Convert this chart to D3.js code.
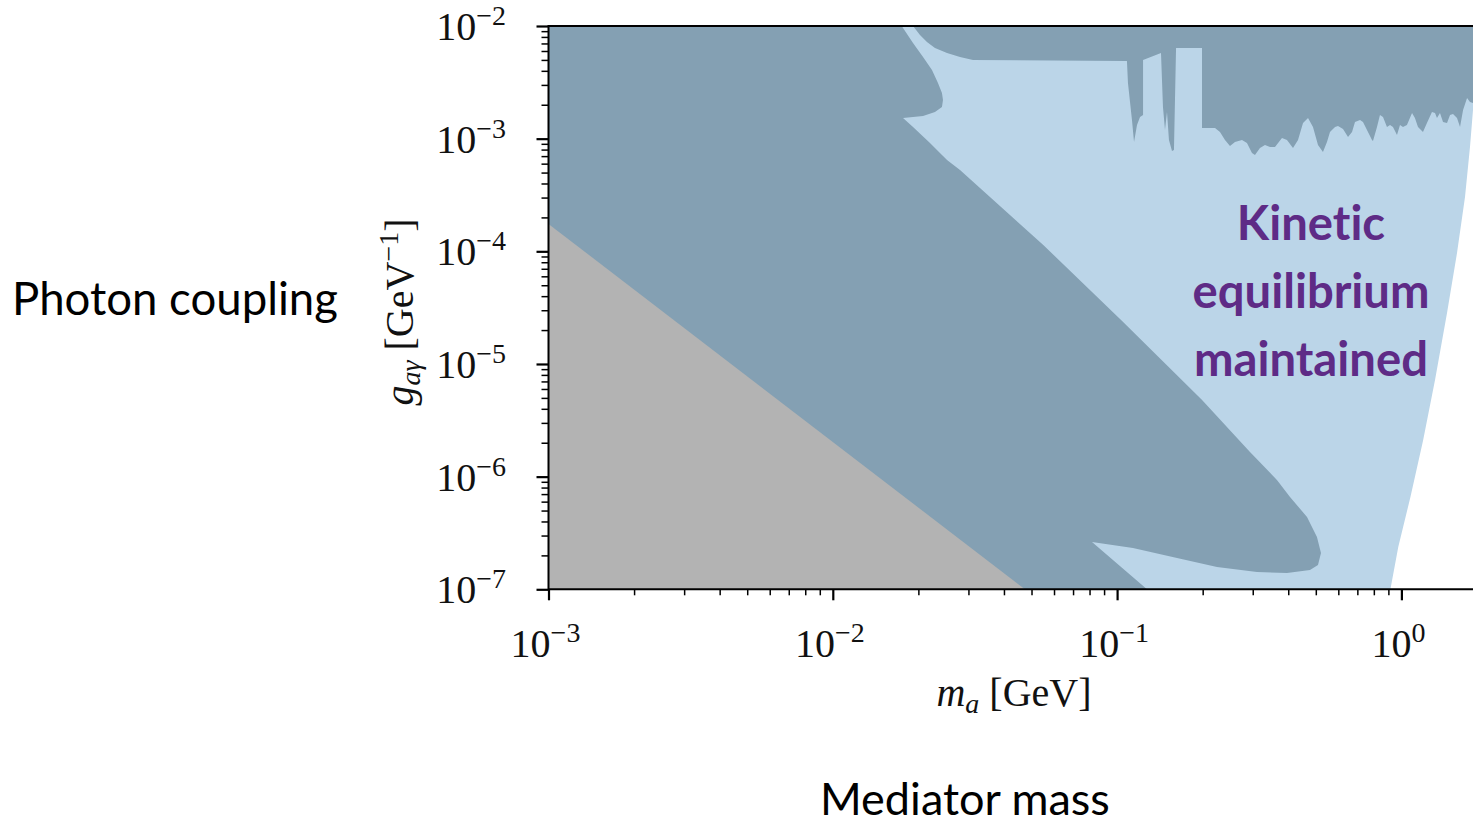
<!DOCTYPE html>
<html>
<head>
<meta charset="utf-8">
<script src="https://cdn.jsdelivr.net/npm/d3@7"></script>
<style>
  body { margin: 0; background: #ffffff; }
  svg { display: block; }
  text { font-variant-ligatures: none; font-feature-settings: "liga" 0; }
</style>
</head>
<body>
<svg id="chart" width="1473" height="825"></svg>
<script>
// ---- axis extents and ticks ----
const massDomain = [1e-3, 1.786];          // m_a [GeV]
const couplingDomain = [1e-7, 1e-2];       // g_aγ [GeV^-1]
const xMajorTicks = [1e-3, 1e-2, 1e-1, 1e0];
const xTickExponents = ["−3", "−2", "−1", "0"];
const yMajorTicks = [1e-2, 1e-3, 1e-4, 1e-5, 1e-6, 1e-7];
const yTickExponents = ["−2", "−3", "−4", "−5", "−6", "−7"];

// ---- region boundaries, [mass GeV, coupling GeV^-1] ----
// right edge of the region where kinetic equilibrium holds (bottom to top)
const equilibriumEdge = [
  [0.915, 1e-7], [0.975, 2.373e-7], [1.076, 6.597e-7], [1.193, 2.115e-6],
  [1.313, 7.208e-6], [1.447, 2.835e-5], [1.569, 9.663e-5], [1.674, 3.035e-4],
  [1.743, 8.433e-4], [1.786, 1.796e-3], [2.2, 1e-2]
];

// excluded diagonal band (outline, clockwise from top-left)
const bandOutline = [
  [1e-3, 1e-2], [0.01747, 1e-2], [0.01915, 7.065e-3], [0.02077, 5.306e-3],
  [0.02233, 4.068e-3], [0.02344, 3.119e-3], [0.02421, 2.543e-3], [0.02441, 2.204e-3],
  [0.02421, 1.910e-3], [0.02288, 1.724e-3], [0.02077, 1.589e-3], [0.01915, 1.557e-3],
  [0.01766, 1.526e-3], [0.01915, 1.269e-3], [0.02197, 9.151e-4], [0.02522, 6.464e-4],
  [0.02802, 5.27e-4], [0.05500, 1.138e-4], [0.1050, 2.359e-5], [0.1990, 4.79e-6],
  [0.2934, 1.655e-6], [0.3650, 9.337e-7], [0.4057, 6.597e-7], [0.4656, 4.383e-7],
  [0.5047, 2.912e-7], [0.5214, 2.1e-7], [0.5089, 1.643e-7], [0.4770, 1.483e-7],
  [0.3959, 1.395e-7], [0.3105, 1.424e-7], [0.2246, 1.577e-7], [0.1625, 1.895e-7],
  [0.1137, 2.326e-7], [0.08161, 2.629e-7], [0.1274, 1e-7], [1e-3, 1e-7]
];

// lower edge of the excluded strip at large couplings (left to right)
const upperLimitEdge = [
  [0.01915, 1e-2], [0.02026, 8.32e-3], [0.02144, 7.211e-3], [0.02288, 6.378e-3],
  [0.02522, 5.758e-3], [0.02802, 5.306e-3], [0.03112, 4.99e-3], [0.1083, 4.89e-3],
  [0.1092, 3.119e-3], [0.1128, 1.464e-3], [0.1147, 9.34e-4], [0.1175, 1.322e-3],
  [0.1204, 1.557e-3], [0.1234, 1.622e-3], [0.1234, 4.99e-3], [0.1427, 5.758e-3],
  [0.1450, 1.91e-3], [0.1474, 1.194e-3], [0.1498, 1.724e-3], [0.1522, 9.73e-4],
  [0.1560, 7.772e-4], [0.1585, 7.932e-4], [0.1612, 6.378e-3], [0.1989, 6.378e-3],
  [0.1989, 1.243e-3], [0.2088, 1.243e-3], [0.2210, 1.243e-3], [0.2301, 1.146e-3],
  [0.2396, 9.73e-4], [0.2495, 8.607e-4], [0.2598, 9.34e-4], [0.2750, 9.73e-4],
  [0.2863, 9.151e-4], [0.2982, 7.461e-4], [0.3055, 7.161e-4], [0.3181, 8.263e-4],
  [0.3313, 8.785e-4], [0.3450, 8.433e-4], [0.3592, 8.433e-4], [0.3802, 1.014e-3],
  [0.3959, 9.73e-4], [0.4157, 8.263e-4], [0.4329, 9.73e-4], [0.4508, 1.377e-3],
  [0.4694, 1.526e-3], [0.4887, 1.269e-3], [0.5089, 8.785e-4], [0.5299, 7.615e-4],
  [0.5473, 9.34e-4], [0.5609, 1.146e-3], [0.5841, 1.269e-3], [0.5984, 1.295e-3],
  [0.6232, 1.218e-3], [0.6490, 1.034e-3], [0.6704, 1.146e-3], [0.6868, 1.406e-3],
  [0.7152, 1.464e-3], [0.7327, 1.406e-3], [0.7568, 1.194e-3], [0.7881, 9.73e-4],
  [0.7945, 9.53e-4], [0.8207, 1.269e-3], [0.8407, 1.622e-3], [0.8616, 1.557e-3],
  [0.8898, 1.269e-3], [0.9119, 1.322e-3], [0.9341, 1.269e-3], [0.965, 1.078e-3],
  [0.9888, 1.322e-3], [1.013, 1.269e-3], [1.046, 1.322e-3], [1.090, 1.690e-3],
  [1.116, 1.526e-3], [1.144, 1.269e-3], [1.191, 1.146e-3], [1.230, 1.377e-3],
  [1.281, 1.724e-3], [1.313, 1.690e-3], [1.334, 1.526e-3], [1.367, 1.690e-3],
  [1.401, 1.406e-3], [1.447, 1.377e-3], [1.483, 1.622e-3], [1.519, 1.656e-3],
  [1.569, 1.526e-3], [1.608, 1.269e-3], [1.648, 1.796e-3], [1.702, 2.296e-3],
  [1.743, 2.116e-3], [1.786, 2.073e-3], [2.2, 2.073e-3]
];

// grey region below the diagonal line
const greyEdge = [[1e-3, 1.75e-4], [0.0474, 1e-7]];

const kineticLines = ["Kinetic", "equilibrium", "maintained"];

// ---- colours ----
const colLight = "#bbd5e8";
const colDark = "#84a0b3";
const colGrey = "#b3b3b3";
const colPurple = "#5e2b86";

// ---- layout ----
const plot = { left: 548.5, right: 1473, top: 26, bottom: 589.3 };
const serif = "'Liberation Serif', 'DejaVu Serif', serif";
const sans = "Lato, 'Open Sans', 'DejaVu Sans', sans-serif";

const svg = d3.select("#chart");

const x = d3.scaleLog().domain(massDomain).range([plot.left, plot.right]);
const y = d3.scaleLog().domain(couplingDomain).range([plot.bottom, plot.top]);

svg.append("defs").append("clipPath").attr("id", "plotClip")
  .append("rect")
  .attr("x", plot.left).attr("y", plot.top)
  .attr("width", plot.right - plot.left).attr("height", plot.bottom - plot.top);

const area = d3.line().x(d => x(d[0])).y(d => y(d[1]));
const g = svg.append("g").attr("clip-path", "url(#plotClip)");

// light region: everything left of the equilibrium edge
const lightPoly = [[massDomain[0], couplingDomain[0]], ...equilibriumEdge, [massDomain[0], couplingDomain[1]]];
g.append("path").attr("d", area(lightPoly) + "Z").attr("fill", colLight);

// dark band
g.append("path").attr("d", area(bandOutline) + "Z").attr("fill", colDark);

// dark strip at large couplings
const last = upperLimitEdge[upperLimitEdge.length - 1];
const stripPoly = [...upperLimitEdge, [last[0], couplingDomain[1]]];
g.append("path").attr("d", area(stripPoly) + "Z").attr("fill", colDark);

// grey triangle
const greyPoly = [...greyEdge, [massDomain[0], couplingDomain[0]]];
g.append("path").attr("d", area(greyPoly) + "Z").attr("fill", colGrey);

// ---- axes ----
const xMinor = x.ticks().filter(v => !xMajorTicks.some(m => Math.abs(m - v) / m < 1e-9));
const yMinor = y.ticks().filter(v => !yMajorTicks.some(m => Math.abs(m - v) / m < 1e-9));

function styleAxis(sel, width) {
  sel.select(".domain").remove();
  sel.selectAll(".tick line").attr("stroke", "#000").attr("stroke-width", width);
  sel.selectAll(".tick text").remove();
}

svg.append("g").attr("transform", `translate(0,${plot.bottom})`)
  .call(d3.axisBottom(x).tickValues(xMinor).tickSize(6).tickSizeOuter(0))
  .call(s => styleAxis(s, 1.5));
svg.append("g").attr("transform", `translate(0,${plot.bottom})`)
  .call(d3.axisBottom(x).tickValues(xMajorTicks).tickSize(11).tickSizeOuter(0))
  .call(s => styleAxis(s, 2.2));
svg.append("g").attr("transform", `translate(${plot.left},0)`)
  .call(d3.axisLeft(y).tickValues(yMinor).tickSize(7).tickSizeOuter(0))
  .call(s => styleAxis(s, 1.5));
svg.append("g").attr("transform", `translate(${plot.left},0)`)
  .call(d3.axisLeft(y).tickValues(yMajorTicks).tickSize(12).tickSizeOuter(0))
  .call(s => styleAxis(s, 2.2));

// spines
svg.append("line").attr("x1", plot.left).attr("x2", plot.right)
  .attr("y1", plot.bottom).attr("y2", plot.bottom).attr("stroke", "#000").attr("stroke-width", 2);
svg.append("line").attr("x1", plot.left).attr("x2", plot.right)
  .attr("y1", plot.top).attr("y2", plot.top).attr("stroke", "#000").attr("stroke-width", 2);
svg.append("line").attr("x1", plot.left).attr("x2", plot.left)
  .attr("y1", plot.top - 1).attr("y2", plot.bottom + 1).attr("stroke", "#000").attr("stroke-width", 2);

// ---- tick labels (10 with superscript exponent) ----
function powerLabel(sel, exp) {
  sel.append("tspan").text("10");
  sel.append("tspan").attr("font-size", 28).attr("dy", -15).text(exp);
}

xMajorTicks.forEach((v, i) => {
  svg.append("text")
    .attr("x", x(v) - 3).attr("y", 657)
    .attr("text-anchor", "middle")
    .attr("font-family", serif).attr("font-size", 40).attr("fill", "#111")
    .call(s => powerLabel(s, xTickExponents[i]));
});

yMajorTicks.forEach((v, i) => {
  svg.append("text")
    .attr("x", 506).attr("y", y(v) + 14)
    .attr("text-anchor", "end")
    .attr("font-family", serif).attr("font-size", 40).attr("fill", "#111")
    .call(s => powerLabel(s, yTickExponents[i]));
});

// ---- axis titles ----
const xt = svg.append("text").attr("x", 1014).attr("y", 706)
  .attr("text-anchor", "middle").attr("font-family", serif)
  .attr("font-size", 40).attr("fill", "#111");
xt.append("tspan").attr("font-style", "italic").text("m");
xt.append("tspan").attr("font-style", "italic").attr("font-size", 28).attr("dy", 7).text("a");
xt.append("tspan").attr("dy", -7).text(" [GeV]");

const yt = svg.append("text").attr("transform", "translate(413,312) rotate(-90)")
  .attr("text-anchor", "middle").attr("font-family", serif)
  .attr("font-size", 40).attr("fill", "#111");
yt.append("tspan").attr("font-style", "italic").text("g");
yt.append("tspan").attr("font-style", "italic").attr("font-size", 28).attr("dy", 7).text("aγ");
yt.append("tspan").attr("dy", -7).text(" [GeV");
yt.append("tspan").attr("font-size", 28).attr("dy", -15).text("−1");
yt.append("tspan").attr("dy", 15).text("]");

// ---- slide annotations ----
function fitWidth(sel, target) {
  const w = sel.node().getComputedTextLength();
  const fs = parseFloat(sel.attr("font-size"));
  sel.attr("font-size", fs * target / w);
  return fs * target / w;
}

const photon = svg.append("text").attr("x", 12).attr("y", 315)
  .attr("font-family", sans).attr("font-size", 40).attr("fill", "#000")
  .text("Photon coupling");
fitWidth(photon, 326);

const mediator = svg.append("text").attr("x", 820).attr("y", 815)
  .attr("font-family", sans).attr("font-size", 40).attr("fill", "#000")
  .text("Mediator mass");
fitWidth(mediator, 290);

const kin = svg.append("g");
const kinTexts = kineticLines.map((t, i) =>
  kin.append("text").attr("x", 1311).attr("y", 240 + i * 68)
    .attr("text-anchor", "middle").attr("font-family", sans)
    .attr("font-weight", "bold").attr("font-size", 46).attr("fill", colPurple)
    .text(t));
const kfs = fitWidth(kinTexts[1], 237);
kinTexts.forEach(t => t.attr("font-size", kfs));
</script>
</body>
</html>
